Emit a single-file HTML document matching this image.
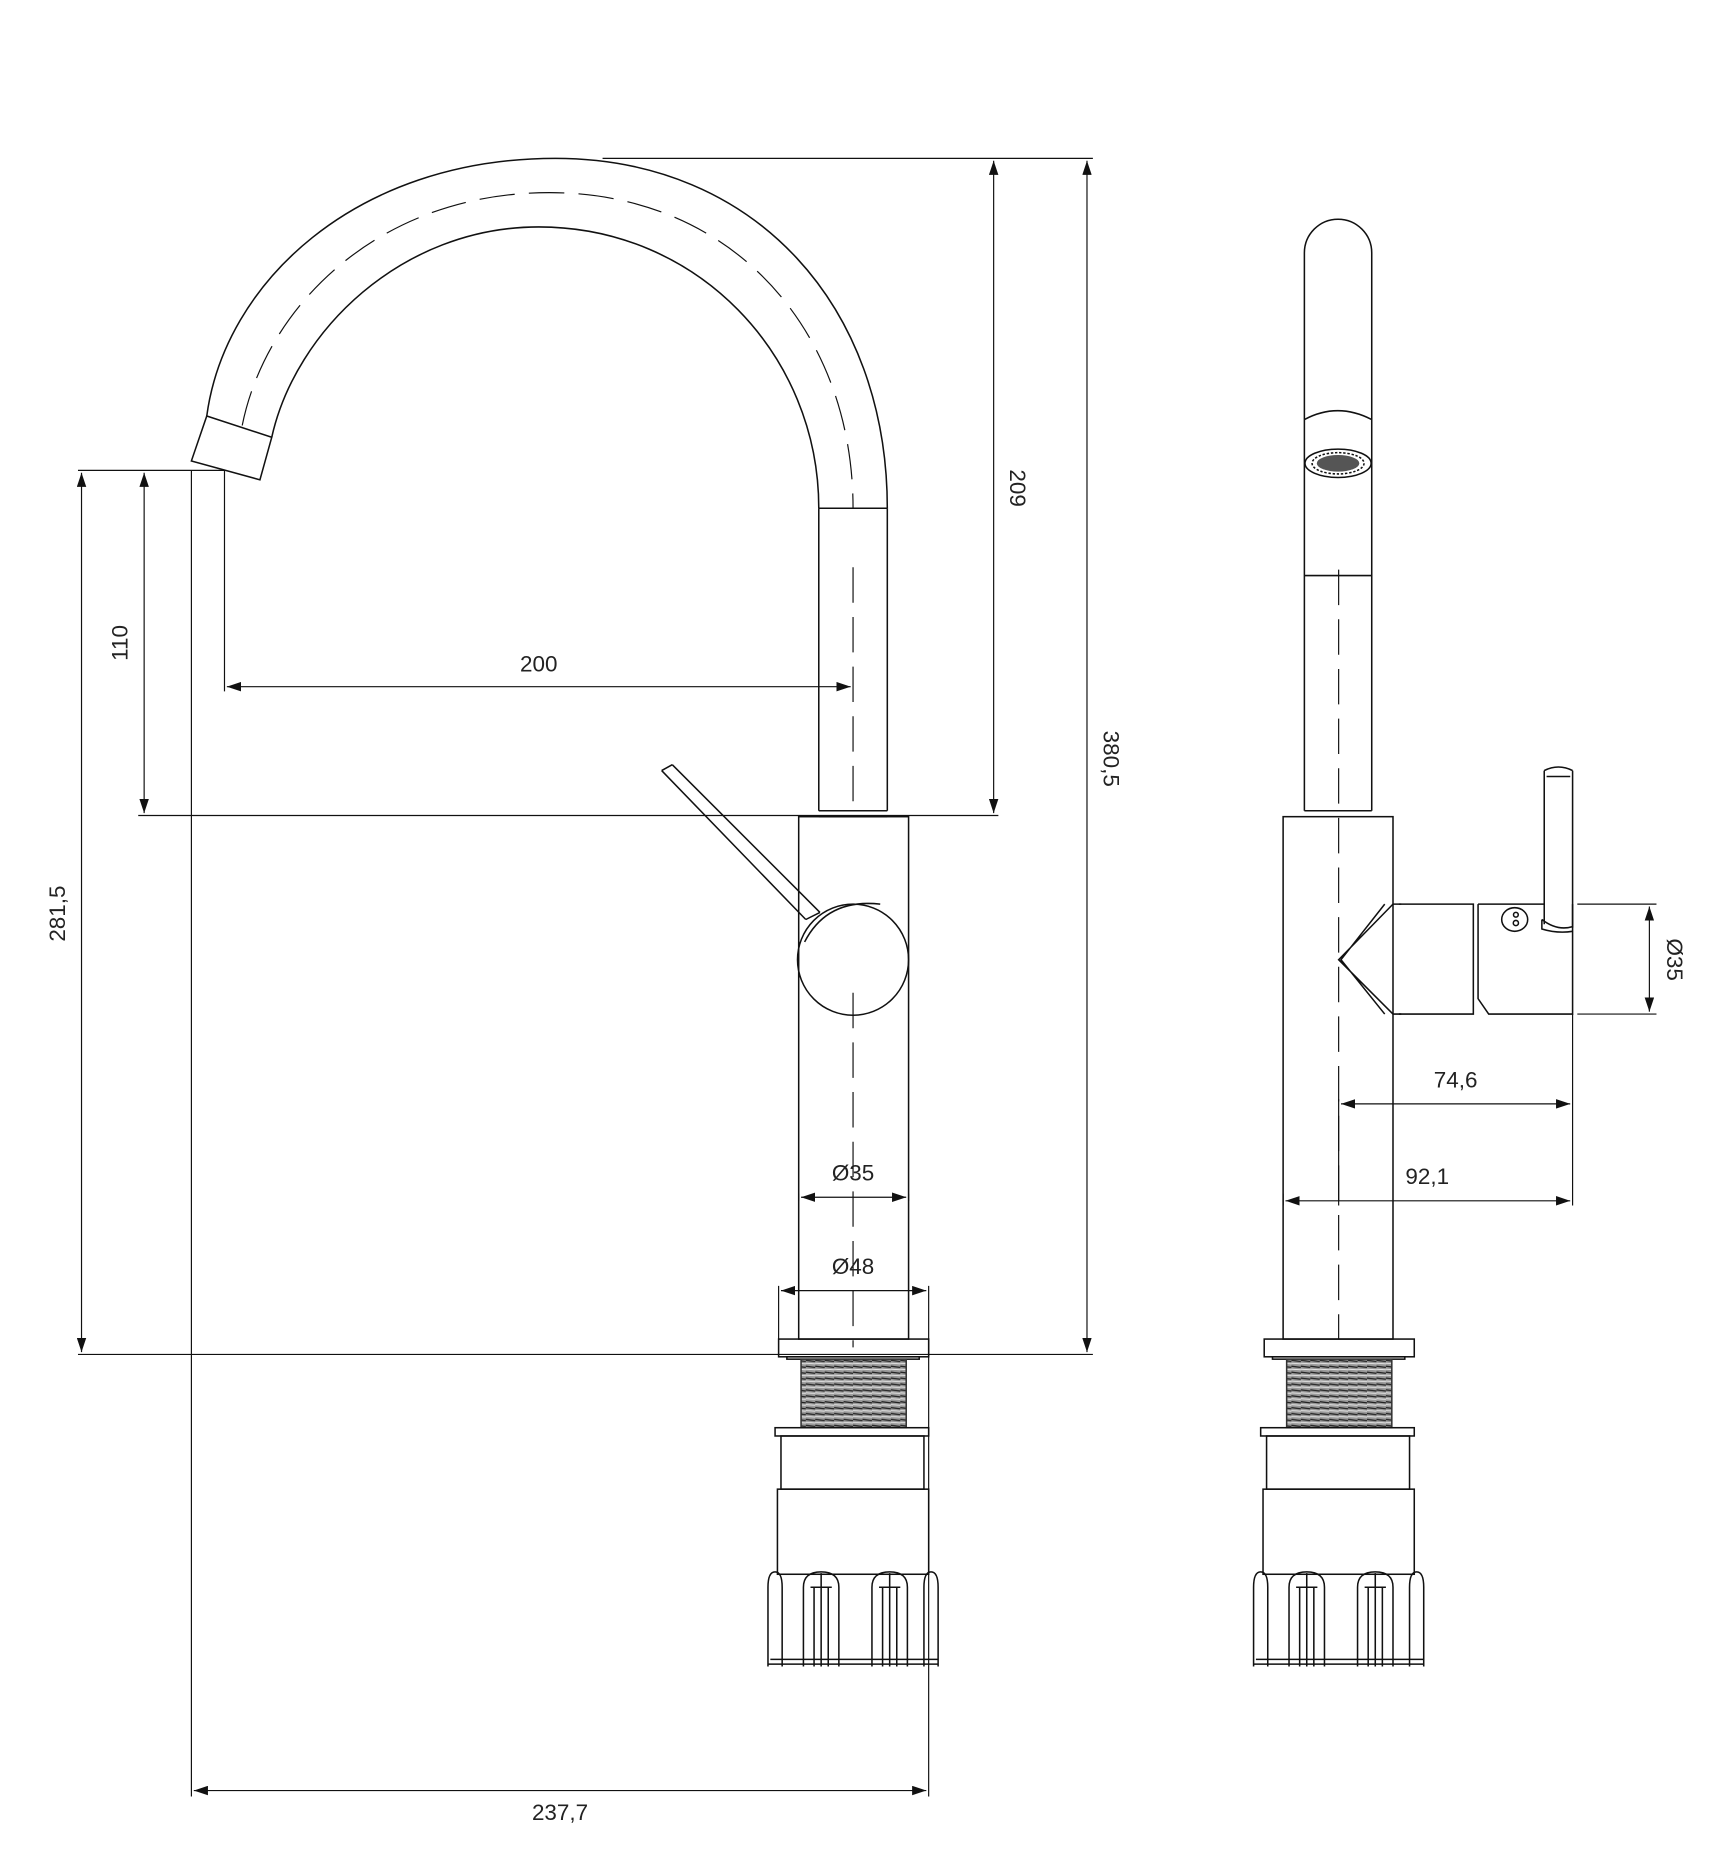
<!DOCTYPE html>
<html><head><meta charset="utf-8"><style>
html,body{margin:0;padding:0;background:#fff}
svg{display:block}
text{font-family:"Liberation Sans",sans-serif;font-size:19px;fill:#222}
</style></head><body>
<svg width="1725" height="1852" viewBox="0 0 1460 1567" preserveAspectRatio="none" xmlns="http://www.w3.org/2000/svg">
<defs>
<marker id="a" viewBox="0 0 12 8" refX="12" refY="4" markerWidth="12" markerHeight="8" orient="auto-start-reverse" markerUnits="userSpaceOnUse"><path d="M0,0 L12,4 L0,8z" fill="#111"/></marker>
<pattern id="thr" width="8" height="5" patternUnits="userSpaceOnUse"><rect width="8" height="5" fill="#999"/><path d="M0,1 L8,2" stroke="#222" stroke-width="1.1"/><path d="M0,3.5 L8,4" stroke="#eee" stroke-width="0.7"/></pattern>
<g id="base" fill="none" stroke="#111" stroke-width="1.3">
<rect x="-63" y="1133" width="127" height="15"/>
<rect x="-56" y="1148" width="112" height="2"/>
<rect x="-44" y="1150" width="89" height="58" fill="url(#thr)" stroke="#333"/>
<rect x="-66" y="1208" width="130" height="7"/>
<rect x="-61" y="1215" width="121" height="45"/>
<rect x="-64" y="1260" width="128" height="72"/>
<path d="M-72,1408 L72,1408 M-70,1404 L72,1404"/>
<path d="M-72,1410 V1343 Q-72,1330 -66,1330 Q-60,1330 -60,1343 V1410"/>
<path d="M-42,1410 V1343 Q-42,1330 -27,1330 Q-12,1330 -12,1343 V1410 M-36,1343 H-18 M-33,1343 V1410 M-21,1343 V1410 M-27,1331 V1410"/>
<path d="M16,1410 V1343 Q16,1330 31,1330 Q46,1330 46,1343 V1410 M22,1343 H40 M25,1343 V1410 M37,1343 V1410 M31,1331 V1410"/>
<path d="M72,1410 V1343 Q72,1330 66,1330 Q60,1330 60,1343 V1410"/>
</g>
</defs>

<g fill="none" stroke="#111" stroke-width="1.3">
<path d="M175,352 C190,240 300,134 470,134 C640,134 751,260 751,430"/>
<path d="M230,370 C250,280 340,192 456,192 C590,192 693,300 693,430"/>
<path d="M205,360 C225,260 320,163 465,163 C620,163 722,280 722,430" stroke-dasharray="30,12" stroke-width="1"/>
<path d="M175,352 L230,370 L220,406 L162,390 Z"/>
<path d="M693,430 H751 M693,430 V686 M751,430 V686 M693,686 H751 M693,691 H751"/>
<path d="M722,480 V690" stroke-dasharray="30,12" stroke-width="1"/>
<rect x="676" y="691" width="93" height="442"/>
<circle cx="722" cy="812" r="47"/>
<path d="M681,797 Q700,760 745,765"/>
<path d="M560,652 L682,778 M569,647 L694,772 M560,652 L569,647 M682,778 L694,772"/>
<path d="M722,840 V1140" stroke-dasharray="30,12" stroke-width="1"/>
</g>
<use href="#base" x="722"/>

<g fill="none" stroke="#111" stroke-width="1">
<path d="M510,134 H925"/>
<path d="M66,398 H190 M117,690 H845 M66,1146 H925"/>
<path d="M162,398 V1520 M190,398 V585 M786,1088 V1520 M659,1088 V1133 M676,1010 V1016 M769,1010 V1016"/>
<path d="M841,136 V688" marker-start="url(#a)" marker-end="url(#a)"/>
<path d="M920,136 V1144" marker-start="url(#a)" marker-end="url(#a)"/>
<path d="M122,400 V688" marker-start="url(#a)" marker-end="url(#a)"/>
<path d="M69,400 V1144" marker-start="url(#a)" marker-end="url(#a)"/>
<path d="M192,581 H720" marker-start="url(#a)" marker-end="url(#a)"/>
<path d="M678,1013 H767" marker-start="url(#a)" marker-end="url(#a)"/>
<path d="M661,1092 H784" marker-start="url(#a)" marker-end="url(#a)"/>
<path d="M164,1515 H784" marker-start="url(#a)" marker-end="url(#a)"/>
</g>
<text x="456" y="568" text-anchor="middle">200</text>
<text x="722" y="999" text-anchor="middle">Ø35</text>
<text x="722" y="1078" text-anchor="middle">Ø48</text>
<text x="474" y="1540" text-anchor="middle">237,7</text>
<text transform="translate(855,413) rotate(90)" text-anchor="middle">209</text>
<text transform="translate(934,642) rotate(90)" text-anchor="middle">380,5</text>
<text transform="translate(108,544) rotate(-90)" text-anchor="middle">110</text>
<text transform="translate(55,773) rotate(-90)" text-anchor="middle">281,5</text>

<g fill="none" stroke="#111" stroke-width="1.3">
<path d="M1104,686 V214 A28.5,28.5 0 0 1 1161,214 V686"/>
<path d="M1104,355 Q1132,340 1161,355"/>
<ellipse cx="1132.5" cy="392" rx="28" ry="12"/>
<ellipse cx="1132.5" cy="392" rx="22" ry="9" stroke-dasharray="2,1.5"/>
<ellipse cx="1132.5" cy="392" rx="18" ry="7" fill="#555" stroke="none"/>
<path d="M1104,487 H1161 M1104,686 H1161"/>
<rect x="1086" y="691" width="93" height="442"/>
<path d="M1179,765 L1133,812 L1179,858 M1179,765 L1186,765 M1179,858 L1186,858 M1172,765 L1135,812 L1172,858"/>
<path d="M1184,765 H1247 V858 H1184"/>
<path d="M1251,765 H1307 M1331,765 V858 H1260 L1251,845 V765"/>
<path d="M1307,652 V782 M1331,652 V785 M1307,652 Q1319,646 1331,652 M1309,657 H1329 M1305,778 Q1318,788 1331,784 M1305,778 V786 Q1318,790 1331,788"/>
<ellipse cx="1282" cy="778" rx="11" ry="10"/>
<circle cx="1283" cy="774" r="2"/><circle cx="1283" cy="781" r="2.2"/>
<path d="M1133,482 V1133" stroke-dasharray="30,12" stroke-width="1"/>
</g>
<use href="#base" x="1133"/>
<g fill="none" stroke="#111" stroke-width="1">
<path d="M1335,765 H1402 M1335,858 H1402 M1331,858 V1020 M1133,930 V1020 M1086,1010 V1020"/>
<path d="M1396,767 V856" marker-start="url(#a)" marker-end="url(#a)"/>
<path d="M1135,934 H1329" marker-start="url(#a)" marker-end="url(#a)"/>
<path d="M1088,1016 H1329" marker-start="url(#a)" marker-end="url(#a)"/>
</g>
<text x="1232" y="920" text-anchor="middle">74,6</text>
<text x="1208" y="1002" text-anchor="middle">92,1</text>
<text transform="translate(1411,812) rotate(90)" text-anchor="middle">Ø35</text>
</svg>
</body></html>
